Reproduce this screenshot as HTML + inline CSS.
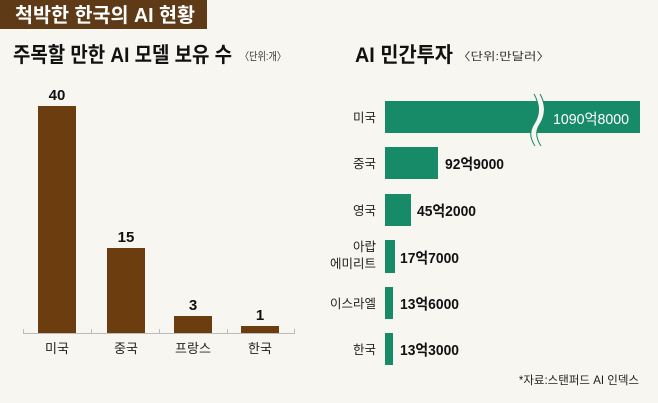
<!DOCTYPE html>
<html><head><meta charset="utf-8"><style>
body{margin:0;background:#f7f6f1;}
svg{display:block;font-family:"Liberation Sans","Noto Sans CJK KR",sans-serif;}
</style></head><body>
<svg width="658" height="403" viewBox="0 0 658 403">
<rect width="658" height="403" fill="#f7f6f1"/>
<rect x="0" y="0" width="207" height="29" fill="#5e3a16"/>
<text x="15" y="22" font-size="20" font-weight="bold" fill="#fff" textLength="180" lengthAdjust="spacingAndGlyphs">척박한 한국의 AI 현황</text>
<text x="13" y="62" font-size="21" font-weight="bold" fill="#111" textLength="219" lengthAdjust="spacingAndGlyphs">주목할 만한 AI 모델 보유 수</text>
<text x="240" y="60" font-size="11" fill="#333" textLength="46" lengthAdjust="spacingAndGlyphs">〈단위:개〉</text>
<text x="355" y="62" font-size="21" font-weight="bold" fill="#111" textLength="98" lengthAdjust="spacingAndGlyphs">AI 민간투자</text>
<text x="457" y="60" font-size="11" fill="#333" textLength="93" lengthAdjust="spacingAndGlyphs">〈단위:만달러〉</text>
<!-- left chart -->
<line x1="23" y1="333.5" x2="295" y2="333.5" stroke="#bbb" stroke-width="1"/>
<g stroke="#bbb"><line x1="23.5" y1="329" x2="23.5" y2="334"/><line x1="91.5" y1="329" x2="91.5" y2="334"/><line x1="159.5" y1="329" x2="159.5" y2="334"/><line x1="227.5" y1="329" x2="227.5" y2="334"/><line x1="294.5" y1="329" x2="294.5" y2="334"/></g>
<g fill="#6b3d0f">
<rect x="38" y="106" width="38" height="227"/>
<rect x="107" y="248" width="38" height="85"/>
<rect x="174" y="316" width="38" height="17"/>
<rect x="241" y="326" width="38" height="7"/>
</g>
<g font-size="15" font-weight="bold" fill="#111" text-anchor="middle">
<text x="57" y="100">40</text><text x="126" y="242">15</text><text x="193" y="310">3</text><text x="260" y="320">1</text>
</g>
<g font-size="13" fill="#222" text-anchor="middle">
<text x="57" y="353">미국</text><text x="126" y="353">중국</text><text x="193" y="353">프랑스</text><text x="260" y="353">한국</text>
</g>
<!-- right chart -->
<g fill="#178a68">
<rect x="385" y="101" width="255" height="32"/>
<rect x="385" y="147" width="53" height="32"/>
<rect x="385" y="194" width="26" height="32"/>
<rect x="385" y="240" width="10" height="33"/>
<rect x="385" y="287" width="8" height="32"/>
<rect x="385" y="333" width="8" height="32"/>
</g>
<path d="M537 94 Q546 110 537 124 Q530 134 538 146" stroke="#f7f6f1" stroke-width="5" fill="none"/>
<path d="M534 94 Q543 110 534 124 Q527 134 535 146" stroke="#178a68" stroke-width="1" fill="none"/>
<path d="M540 94 Q549 110 540 124 Q533 134 541 146" stroke="#178a68" stroke-width="1" fill="none"/>
<text x="553" y="124" font-size="15" fill="#fff" textLength="76" lengthAdjust="spacingAndGlyphs">1090억8000</text>
<g font-size="15" font-weight="bold" fill="#111">
<text x="445" y="169" textLength="59" lengthAdjust="spacingAndGlyphs">92억9000</text>
<text x="417" y="216" textLength="59" lengthAdjust="spacingAndGlyphs">45억2000</text>
<text x="400" y="263" textLength="59" lengthAdjust="spacingAndGlyphs">17억7000</text>
<text x="400" y="309" textLength="59" lengthAdjust="spacingAndGlyphs">13억6000</text>
<text x="400" y="355" textLength="59" lengthAdjust="spacingAndGlyphs">13억3000</text>
</g>
<g font-size="12.5" fill="#222" text-anchor="end">
<text x="376" y="122">미국</text>
<text x="376" y="168">중국</text>
<text x="376" y="215">영국</text>
<text x="376" y="251">아랍</text>
<text x="376" y="268">에미리트</text>
<text x="376" y="308">이스라엘</text>
<text x="376" y="354">한국</text>
</g>
<text x="639" y="384" font-size="11.5" fill="#222" text-anchor="end">*자료:스탠퍼드 AI 인덱스</text>
</svg>
</body></html>
